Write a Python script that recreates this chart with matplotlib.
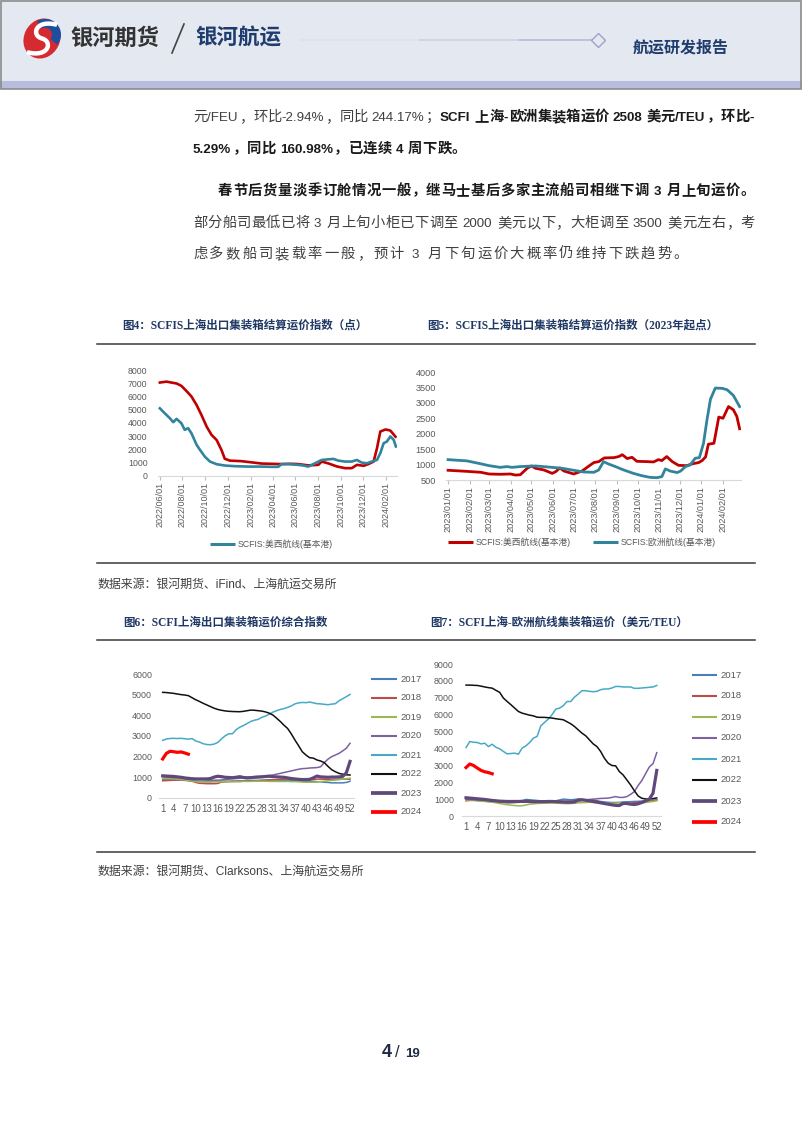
import matplotlib
matplotlib.use('Agg')
import matplotlib.pyplot as plt
import numpy as np
import pandas as pd
from matplotlib import font_manager
from matplotlib.patches import Rectangle, Ellipse, Wedge, PathPatch
from matplotlib.path import Path
from matplotlib.lines import Line2D

# ---------------- data ----------------
# fig4: SCFIS, 2022/06 onwards (red = Europe, teal = US West)
c4_eu_dates = ['2022-06-01', '2022-06-19', '2022-07-02', '2022-07-16', '2022-07-29', '2022-08-12',
               '2022-08-25', '2022-09-08', '2022-09-21', '2022-10-05', '2022-10-18', '2022-11-01',
               '2022-11-14', '2022-11-23', '2022-12-07', '2023-01-07', '2023-02-03', '2023-03-02',
               '2023-03-29', '2023-04-25', '2023-05-22', '2023-06-09', '2023-07-06', '2023-08-02',
               '2023-08-11', '2023-08-29', '2023-09-21', '2023-10-13', '2023-10-31', '2023-11-14',
               '2023-12-02', '2023-12-15', '2023-12-29', '2024-01-07', '2024-01-16', '2024-01-30',
               '2024-02-12', '2024-02-26']
c4_eu_vals = [7050, 7120, 7050, 6980, 6800, 6400, 6000, 5350, 4600, 3720, 3100, 2700, 1950, 1280,
              1140, 1100, 1010, 920, 900, 880, 900, 880, 780, 820, 1070, 930, 700, 570, 570, 820,
              750, 880, 1070, 2070, 3340, 3500, 3420, 2950]
c4_usw_dates = ['2022-06-01', '2022-06-14', '2022-06-28', '2022-07-07', '2022-07-16', '2022-07-29',
                '2022-08-07', '2022-08-16', '2022-08-25', '2022-09-08', '2022-09-17', '2022-09-30',
                '2022-10-14', '2022-11-01', '2022-11-23', '2022-12-20', '2023-01-25', '2023-03-02',
                '2023-03-29', '2023-04-16', '2023-04-25', '2023-05-13', '2023-06-09', '2023-06-23',
                '2023-07-06', '2023-07-24', '2023-08-11', '2023-08-29', '2023-09-12', '2023-09-25',
                '2023-10-13', '2023-10-31', '2023-11-14', '2023-11-27', '2023-12-11', '2023-12-24',
                '2024-01-07', '2024-01-16', '2024-01-25', '2024-02-03', '2024-02-12', '2024-02-21',
                '2024-02-27']
c4_usw_vals = [5100, 4730, 4350, 4050, 4300, 3970, 3470, 3600, 3220, 2340, 1960, 1450, 1070, 870,
               770, 720, 690, 690, 670, 670, 880, 880, 820, 770, 690, 940, 1190, 1240, 1270, 1140,
               1070, 1070, 1190, 990, 940, 1070, 1190, 1700, 2460, 2590, 2970, 2720, 2210]

# fig5: SCFIS from 2023 (red = US West, teal = Europe)
c5_usw_dates = ['2023-01-01', '2023-01-28', '2023-02-17', '2023-03-01', '2023-03-17', '2023-04-01',
                '2023-04-08', '2023-04-15', '2023-04-25', '2023-05-01', '2023-05-07', '2023-05-19',
                '2023-05-31', '2023-06-05', '2023-06-11', '2023-06-17', '2023-07-01', '2023-07-13',
                '2023-07-23', '2023-07-30', '2023-08-06', '2023-08-14', '2023-08-28', '2023-09-04',
                '2023-09-09', '2023-09-16', '2023-09-23', '2023-09-30', '2023-10-15', '2023-10-24',
                '2023-10-31', '2023-11-05', '2023-11-12', '2023-11-20', '2023-11-29', '2023-12-11',
                '2023-12-18', '2023-12-28', '2024-01-02', '2024-01-07', '2024-01-11', '2024-01-19',
                '2024-01-26', '2024-02-01', '2024-02-09', '2024-02-16', '2024-02-21', '2024-02-25']
c5_usw_vals = [815, 780, 750, 695, 685, 695, 660, 670, 880, 955, 880, 825, 715, 770, 890, 790, 695,
               790, 955, 1065, 1095, 1215, 1225, 1260, 1320, 1195, 1235, 1105, 1095, 1085, 1160,
               1130, 1260, 1095, 975, 965, 1020, 1065, 1130, 1250, 1660, 1690, 2540, 2500, 2880,
               2775, 2560, 2160]
c5_eu_dates = ['2023-01-01', '2023-01-28', '2023-02-14', '2023-03-01', '2023-03-17', '2023-03-27',
               '2023-04-03', '2023-04-15', '2023-04-25', '2023-05-07', '2023-05-31', '2023-06-14',
               '2023-07-01', '2023-07-15', '2023-07-30', '2023-08-06', '2023-08-13', '2023-08-20',
               '2023-08-30', '2023-09-11', '2023-09-25', '2023-10-07', '2023-10-19', '2023-10-29',
               '2023-11-05', '2023-11-10', '2023-11-17', '2023-11-27', '2023-12-02', '2023-12-09',
               '2023-12-16', '2023-12-23', '2023-12-29', '2024-01-04', '2024-01-09', '2024-01-14',
               '2024-01-21', '2024-01-31', '2024-02-07', '2024-02-16', '2024-02-25']
c5_eu_vals = [1160, 1120, 1040, 965, 910, 935, 910, 935, 945, 955, 910, 880, 815, 760, 750, 825,
              1095, 1020, 935, 825, 715, 640, 585, 575, 610, 860, 790, 740, 790, 935, 990, 1205,
              1225, 1690, 2450, 3120, 3480, 3470, 3425, 3240, 2880]

# fig6: SCFI composite index by week of year
years = ['2017', '2018', '2019', '2020', '2021', '2022', '2023', '2024']
c6_2017 = [900, 890, 880, 870, 860, 850, 840, 830, 820, 800, 790, 780, 780, 780, 790, 790, 800, 800,
           800, 810, 810, 820, 820, 830, 830, 840, 840, 850, 860, 870, 870, 860, 850, 850, 840, 830,
           820, 810, 800, 800, 790, 790, 780, 770, 750, 740, 720, 720, 720, 720, 740, 800]
c6_2018 = [820, 830, 840, 850, 855, 860, 860, 830, 800, 740, 700, 690, 680, 680, 680, 690, 760, 770,
           780, 780, 790, 790, 800, 800, 800, 810, 820, 830, 840, 850, 860, 870, 890, 900, 910, 910,
           910, 900, 880, 870, 870, 880, 900, 900, 890, 880, 880, 890, 900, 900, 900, 900]
c6_2019 = [930, 930, 920, 920, 900, 880, 860, 840, 810, 780, 770, 760, 760, 760, 770, 770, 770, 780,
           780, 780, 780, 780, 790, 790, 790, 800, 800, 800, 800, 790, 790, 790, 790, 790, 790, 780,
           780, 770, 760, 750, 750, 750, 760, 780, 800, 820, 840, 860, 870, 900, 920, 950]
c6_2020 = [1020, 1000, 990, 980, 970, 960, 930, 900, 890, 890, 880, 880, 860, 850, 850, 850, 860, 880,
           900, 920, 930, 940, 960, 1000, 1010, 1020, 1030, 1040, 1060, 1080, 1100, 1140, 1180, 1220,
           1260, 1300, 1340, 1380, 1410, 1420, 1440, 1450, 1460, 1500, 1700, 1870, 1990, 2070, 2150,
           2270, 2400, 2640]
c6_2021 = [2780, 2850, 2870, 2880, 2870, 2880, 2860, 2840, 2870, 2750, 2700, 2620, 2580, 2570, 2600,
           2680, 2850, 3000, 3100, 3100, 3300, 3420, 3500, 3600, 3700, 3760, 3800, 3900, 3960, 4050,
           4150, 4220, 4280, 4320, 4380, 4450, 4550, 4600, 4620, 4610, 4640, 4600, 4560, 4550, 4530,
           4510, 4540, 4560, 4700, 4800, 4900, 5010]
c6_2022 = [5110, 5100, 5080, 5060, 5030, 5000, 4980, 4950, 4850, 4750, 4670, 4580, 4500, 4420, 4340,
           4280, 4240, 4210, 4190, 4180, 4175, 4170, 4190, 4220, 4250, 4240, 4220, 4200, 4160, 4100,
           4010, 3860, 3700, 3520, 3360, 3100, 2800, 2520, 2230, 2070, 1940, 1920, 1830, 1780, 1700,
           1520, 1360, 1260, 1180, 1140, 1110, 1100]
c6_2023 = [1060, 1050, 1040, 1030, 1010, 990, 960, 940, 920, 910, 910, 910, 910, 930, 1000, 1040,
           1020, 990, 980, 970, 990, 1020, 980, 960, 970, 990, 1000, 1010, 1030, 1040, 1020, 1010,
           1000, 990, 960, 930, 910, 890, 880, 880, 890, 960, 1050, 1010, 1000, 990, 1000, 1000,
           1010, 1030, 1210, 1760]
c6_2024 = [1880, 2150, 2250, 2230, 2200, 2220, 2170, 2110]

# fig7: SCFI Shanghai-Europe (USD/TEU) by week of year
c7_2017 = [1000, 980, 960, 940, 920, 900, 880, 860, 840, 820, 810, 800, 800, 810, 830, 900, 980, 960,
           940, 920, 900, 890, 880, 890, 900, 950, 1000, 980, 960, 980, 1000, 980, 960, 950, 940, 900,
           860, 830, 810, 800, 800, 810, 820, 840, 850, 860, 870, 880, 900, 920, 940, 950]
c7_2018 = [900, 920, 930, 920, 900, 880, 860, 850, 840, 820, 800, 790, 790, 800, 810, 820, 830, 840,
           850, 860, 870, 870, 860, 850, 840, 830, 820, 820, 830, 860, 900, 920, 940, 950, 930, 880,
           800, 750, 700, 680, 660, 650, 680, 720, 760, 800, 820, 840, 860, 880, 900, 950]
c7_2019 = [950, 940, 920, 900, 880, 860, 840, 820, 780, 740, 700, 670, 640, 620, 600, 610, 650, 700,
           720, 740, 750, 760, 760, 770, 760, 750, 740, 730, 740, 760, 780, 790, 800, 810, 800, 790,
           780, 770, 760, 760, 770, 780, 780, 760, 740, 720, 740, 770, 800, 830, 860, 900]
c7_2020 = [1000, 980, 960, 950, 940, 930, 920, 900, 890, 880, 870, 860, 860, 860, 870, 880, 890, 900,
           900, 900, 900, 900, 890, 880, 880, 880, 880, 880, 890, 900, 910, 930, 950, 980, 1000, 1020,
           1040, 1050, 1060, 1100, 1150, 1100, 1100, 1150, 1280, 1440, 1800, 2100, 2500, 2900, 3100,
           3750]
c7_2021 = [4050, 4410, 4370, 4350, 4270, 4310, 4110, 4250, 4070, 3980, 3820, 3680, 3700, 3720, 3660,
           4020, 4150, 4350, 4610, 4710, 5340, 5540, 5740, 6000, 6330, 6390, 6530, 6780, 6780, 7040,
           7220, 7420, 7420, 7380, 7360, 7380, 7480, 7520, 7520, 7580, 7670, 7670, 7640, 7640, 7640,
           7560, 7560, 7580, 7600, 7620, 7640, 7730]
c7_2022 = [7750, 7750, 7740, 7730, 7690, 7640, 7600, 7570, 7440, 7320, 6980, 6780, 6590, 6390, 6190,
           6090, 6030, 5970, 5930, 5850, 5840, 5840, 5820, 5800, 5760, 5730, 5700, 5580, 5460, 5300,
           5100, 4905, 4750, 4510, 4270, 4110, 3820, 3420, 3130, 2990, 2970, 2630, 2430, 2140, 1840,
           1500, 1190, 1050, 1010, 1010, 1030, 1070]
c7_2023 = [1080, 1060, 1040, 1020, 1000, 980, 950, 920, 900, 880, 870, 860, 860, 860, 860, 870, 870,
           860, 850, 850, 850, 850, 860, 860, 850, 840, 830, 820, 820, 830, 950, 960, 930, 900, 860,
           820, 780, 740, 700, 660, 630, 620, 760, 740, 700, 680, 720, 800, 900, 1000, 1350, 2700]
c7_2024 = [2870, 3080, 2990, 2840, 2700, 2620, 2570, 2500]

# ---------------- page setup ----------------
W, H = 802, 1133
fig = plt.figure(figsize=(W / 100, H / 100), dpi=100)
fig.patch.set_facecolor('white')

installed = {f.name for f in font_manager.fontManager.ttflist}
CJK = 'Noto Sans CJK SC'
NARROW = 'Liberation Sans Narrow' in installed
LAT = 'Liberation Sans Narrow' if NARROW else 'Liberation Sans'
SANS = 'Liberation Sans'
SERIF = 'Liberation Serif'
plt.rcParams['font.family'] = [SANS, CJK]

GREY = '#595959'
NAVY = '#1f3864'


def fx(x):
    return x / W


def fy(y):
    return 1 - y / H


def ptext(x, y, s, **kw):
    return fig.text(fx(x), fy(y), s, **kw)


def hline(x0, x1, y, **kw):
    fig.add_artist(Line2D([fx(x0), fx(x1)], [fy(y), fy(y)], transform=fig.transFigure, **kw))


def px_axes(x0, y0, x1, y1):
    ax = fig.add_axes([fx(x0), fy(y1), (x1 - x0) / W, (y1 - y0) / H])
    ax.patch.set_alpha(0)
    return ax


# ---------------- header ----------------
fig.add_artist(Rectangle((0, fy(81)), 1, 81 / H, transform=fig.transFigure,
                         facecolor='#e4e8f0', edgecolor='none', zorder=0))
fig.add_artist(Rectangle((0, fy(89)), 1, 8 / H, transform=fig.transFigure,
                         facecolor='#b7bedd', edgecolor='none', zorder=0))
fig.add_artist(Rectangle((0.001, fy(89)), 0.998, 89 / H - 0.001, transform=fig.transFigure,
                         facecolor='none', edgecolor='#8c8c8c', lw=1.2, zorder=1))

axl = px_axes(20, 17, 64, 60)
axl.set_xlim(-1.1, 1.1)
axl.set_ylim(-1.1, 1.1)
axl.axis('off')
axl.add_patch(Ellipse((0, 0), 1.8, 2.1, angle=-25, facecolor='#d42a30', edgecolor='none'))
axl.add_patch(Wedge((0.15, 0.2), 0.8, -40, 120, width=0.45, facecolor='#1f4f9c', edgecolor='none'))
s_path = Path([(0.75, 0.7), (-0.35, 1.0), (-0.55, 0.15), (0.0, 0.0),
               (0.55, -0.15), (0.35, -1.0), (-0.75, -0.7)],
              [Path.MOVETO, Path.CURVE4, Path.CURVE4, Path.CURVE4,
               Path.CURVE4, Path.CURVE4, Path.CURVE4])
axl.add_patch(PathPatch(s_path, facecolor='none', edgecolor='white', lw=3.2))

ptext(70, 38, '银河期货', fontsize=16, fontweight='bold', color='#333333', family=CJK, va='center')
fig.add_artist(Line2D([fx(172), fx(184)], [fy(53), fy(24)], transform=fig.transFigure,
                      color='#444444', lw=1.2))
ptext(195, 38, '银河航运', fontsize=15.5, fontweight='bold', color='#1f3c6e', family=CJK, va='center')
hline(300, 420, 40, color='#dde1ec', lw=1.2)
hline(420, 520, 40, color='#ccd2e4', lw=1.2)
hline(520, 593, 40, color='#b4bcd8', lw=1.2)
fig.add_artist(Line2D([fx(598)], [fy(40)], marker='D', markersize=7, markerfacecolor='#e4e8f0',
                      markeredgecolor='#9aa3c9', transform=fig.transFigure))
ptext(633, 47, '航运研发报告', fontsize=11.5, fontweight='bold', color='#1f3c6e', family=CJK, va='center')

# ---------------- body text ----------------
renderer = fig.canvas.get_renderer()
BODY_PT = 10.3
BODY_PX = BODY_PT * 100 / 72
LAT_PT = 11 if NARROW else 9.6


def tokens_of(runs):
    toks = []
    for s, bold in runs:
        buf = ''
        for c in s:
            if c == ' ' or ord(c) >= 0x2000:
                if buf:
                    toks.append((buf, bold, 'lat'))
                    buf = ''
                toks.append((c, bold, 'sp' if c == ' ' else 'cjk'))
            else:
                buf += c
        if buf:
            toks.append((buf, bold, 'lat'))
    return toks


def draw_line(x0, x1, yb, runs):
    toks = tokens_of(runs)
    arts, widths = [], []
    for s, bold, kind in toks:
        col = '#1a1a1a' if bold else '#404040'
        wt = 'bold' if bold else 'normal'
        if kind == 'sp':
            arts.append(None)
            widths.append(BODY_PX * 0.25)
        elif kind == 'cjk':
            t = ptext(x0, yb, s, fontsize=BODY_PT, family=CJK, fontweight=wt, color=col, va='baseline')
            arts.append(t)
            widths.append(BODY_PX)
        else:
            t = ptext(x0, yb, s, fontsize=LAT_PT, family=LAT, fontweight=wt, color=col, va='baseline')
            arts.append(t)
            widths.append(t.get_window_extent(renderer).width + 1)
    gap = (x1 - x0 - sum(widths)) / (len(toks) - 1)
    x = x0
    for t, w in zip(arts, widths):
        if t is not None:
            t.set_x(fx(x))
        x += w + gap


draw_line(193, 755, 121, [('元/FEU，环比-2.94%，同比 244.17%；', False),
                          ('SCFI 上海-欧洲集装箱运价 2508 美元/TEU，环比-', True)])
draw_line(193, 466, 153, [('5.29%，同比 160.98%，已连续 4 周下跌。', True)])
draw_line(218, 755, 195, [('春节后货量淡季订舱情况一般，继马士基后多家主流船司相继下调 3 月上旬运价。', True)])
draw_line(193, 755, 227, [('部分船司最低已将 3 月上旬小柜已下调至 2000 美元以下，大柜调至 3500 美元左右，考', False)])
draw_line(193, 688, 258, [('虑多数船司装载率一般，预计 3 月下旬运价大概率仍维持下跌趋势。', False)])

# ---------------- titles, rules, sources ----------------
title_kw = dict(fontsize=8.3, color=NAVY, family=[SERIF, CJK], fontweight='bold', va='center')
ptext(122, 326, '图4：SCFIS上海出口集装箱结算运价指数（点）', **title_kw)
ptext(427, 326, '图5：SCFIS上海出口集装箱结算运价指数（2023年起点）', **title_kw)
ptext(123, 623, '图6：SCFI上海出口集装箱运价综合指数', **title_kw)
ptext(430, 623, '图7：SCFI上海-欧洲航线集装箱运价（美元/TEU）', **title_kw)
for yy in (344, 563, 640, 852):
    hline(97, 755, yy, color='#3a3a3a', lw=1.1)
src_kw = dict(fontsize=8.6, color='#404040', family=[LAT, CJK], va='center')
ptext(97, 585, '数据来源：银河期货、iFind、上海航运交易所', **src_kw)
ptext(97, 872, '数据来源：银河期货、Clarksons、上海航运交易所', **src_kw)

# ---------------- chart helpers ----------------
def style_axes(ax, ysize, ypad):
    for side in ('top', 'right', 'left'):
        ax.spines[side].set_visible(False)
    ax.spines['bottom'].set_color('#d9d9d9')
    ax.spines['bottom'].set_linewidth(0.8)
    ax.tick_params(axis='y', length=0, labelsize=ysize, labelcolor=GREY, pad=ypad)
    for lab in ax.get_yticklabels():
        lab.set_family(SANS)


def legend_entry(x0, x1, y, color, lw, label, size=6.3):
    fig.add_artist(Line2D([fx(x0), fx(x1)], [fy(y), fy(y)], transform=fig.transFigure,
                          color=color, lw=lw, solid_capstyle='butt'))
    ptext(x1 + 3, y, label, fontsize=size, color=GREY, family=[SANS, CJK], va='center')


RED = '#c00000'
TEAL = '#31849b'

# fig4
ax4 = px_axes(158, 370, 397, 475.7)
ax4.plot(pd.to_datetime(c4_eu_dates), c4_eu_vals, color=RED, lw=1.9)
ax4.plot(pd.to_datetime(c4_usw_dates), c4_usw_vals, color=TEAL, lw=1.9)
ax4.set_ylim(0, 8000)
ax4.set_yticks(range(0, 8001, 1000))
ax4.set_xlim(pd.Timestamp('2022-05-27'), pd.Timestamp('2024-03-01'))
t4 = pd.date_range('2022-06-01', '2024-02-01', freq='2MS')
ax4.set_xticks(t4)
ax4.set_xticklabels([d.strftime('%Y/%m/%d') for d in t4], rotation=90, family=SANS)
style_axes(ax4, 6.3, 7.5)
ax4.tick_params(axis='x', length=3, color='#bfbfbf', labelsize=6.5, labelcolor=GREY, pad=1.5)
legend_entry(210, 235, 544, TEAL, 2.2, 'SCFIS:美西航线(基本港)')

# fig5
ax5 = px_axes(446, 372, 741, 480)
ax5.plot(pd.to_datetime(c5_usw_dates), c5_usw_vals, color=RED, lw=2.0)
ax5.plot(pd.to_datetime(c5_eu_dates), c5_eu_vals, color=TEAL, lw=2.0)
ax5.set_ylim(500, 4000)
ax5.set_yticks(range(500, 4001, 500))
ax5.set_xlim(pd.Timestamp('2022-12-29'), pd.Timestamp('2024-02-27'))
t5 = pd.date_range('2023-01-01', '2024-02-01', freq='MS')
ax5.set_xticks(t5)
ax5.set_xticklabels([d.strftime('%Y/%m/%d') for d in t5], rotation=90, family=SANS)
style_axes(ax5, 6.6, 7)
ax5.tick_params(axis='x', length=3, color='#bfbfbf', labelsize=6.6, labelcolor=GREY, pad=1.5)
legend_entry(448, 473, 542, RED, 2.2, 'SCFIS:美西航线(基本港)')
legend_entry(593, 618, 542, TEAL, 2.2, 'SCFIS:欧洲航线(基本港)')

# fig6 / fig7
year_colors = ['#4a7ebb', '#be4b48', '#98b954', '#7d60a0', '#46aac5', '#111111', '#5f497a', '#ff0000']
year_lw = [1.1, 1.1, 1.1, 1.1, 1.1, 1.1, 2.3, 2.3]
c6_series = [c6_2017, c6_2018, c6_2019, c6_2020, c6_2021, c6_2022, c6_2023, c6_2024]
c7_series = [c7_2017, c7_2018, c7_2019, c7_2020, c7_2021, c7_2022, c7_2023, c7_2024]
weeks_ticks = list(range(1, 53, 3))

ax6 = px_axes(159, 674, 353.7, 797.7)
for vals, col, lw in zip(c6_series, year_colors, year_lw):
    ax6.plot(np.arange(1, len(vals) + 1), vals, color=col, lw=lw)
ax6.set_ylim(0, 6000)
ax6.set_yticks(range(0, 6001, 1000))
ax6.set_xlim(0, 53)
ax6.set_xticks(weeks_ticks)
ax6.set_xticklabels([str(w) for w in weeks_ticks], family=SANS)
style_axes(ax6, 6.4, 5)
ax6.tick_params(axis='x', length=0, labelsize=6.9, labelcolor=GREY, pad=4.5)
for i, (yr, col, lw) in enumerate(zip(years, year_colors, year_lw)):
    legend_entry(371, 397, 679 + i * 19, col, lw + 0.4, yr, size=6.8)

ax7 = px_axes(462.3, 664, 660.5, 816)
for vals, col, lw in zip(c7_series, year_colors, year_lw):
    ax7.plot(np.arange(1, len(vals) + 1), vals, color=col, lw=lw)
ax7.set_ylim(0, 9000)
ax7.set_yticks(range(0, 9001, 1000))
ax7.set_xlim(0, 53)
ax7.set_xticks(weeks_ticks)
ax7.set_xticklabels([str(w) for w in weeks_ticks], family=SANS)
style_axes(ax7, 6.4, 6)
ax7.tick_params(axis='x', length=0, labelsize=6.9, labelcolor=GREY, pad=4.5)
for i, (yr, col, lw) in enumerate(zip(years, year_colors, year_lw)):
    legend_entry(692, 717, 675 + i * 21, col, lw + 0.4, yr, size=6.8)

# ---------------- footer ----------------
ptext(382, 1057, '4', fontsize=13, fontweight='bold', color='#1f2a44', family=SANS, va='baseline')
ptext(395, 1057, '/', fontsize=12, color='#1f2a44', family=SANS, va='baseline')
ptext(405, 1057, '19', fontsize=9.5, fontweight='bold', color='#1f2a44', family=SANS, va='baseline')

fig.savefig('out.png', dpi=100, facecolor='white')
